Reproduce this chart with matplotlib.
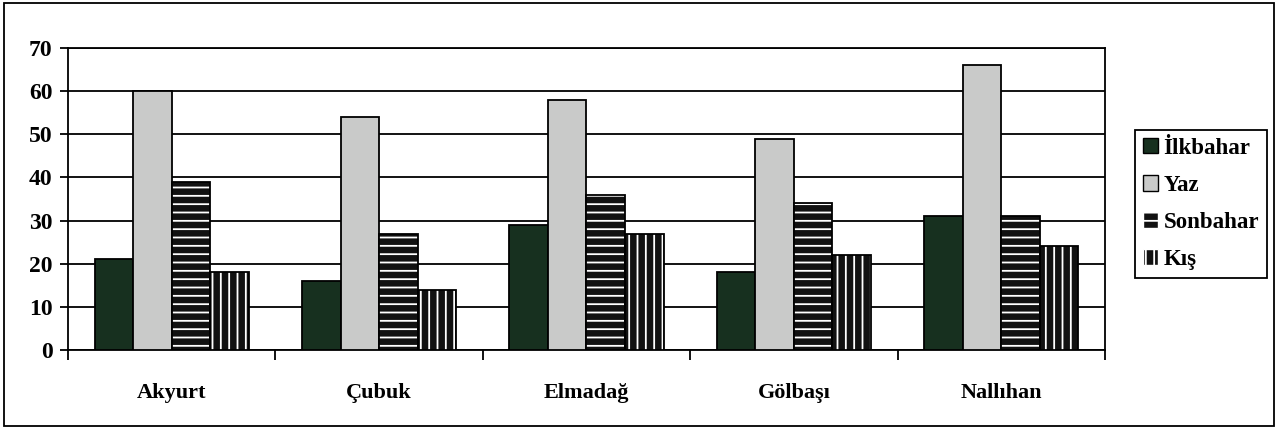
import numpy as np
import matplotlib
matplotlib.use("Agg")
import matplotlib.pyplot as plt
from matplotlib.patches import Rectangle, Patch

plt.rcParams["font.family"] = ["Liberation Serif", "DejaVu Serif"]
plt.rcParams["font.weight"] = "bold"
plt.rcParams["hatch.linewidth"] = 1.3

# data
districts = ["Akyurt", "Çubuk", "Elmadağ", "Gölbaşı", "Nallıhan"]
seasons = ["İlkbahar", "Yaz", "Sonbahar", "Kış"]
ilkbahar = [21, 16, 29, 18, 31]
yaz = [60, 54, 58, 49, 66]
sonbahar = [39, 27, 36, 34, 31]
kis = [18, 14, 27, 22, 24]
y_ticks = [0, 10, 20, 30, 40, 50, 60, 70]

series = [ilkbahar, yaz, sonbahar, kis]
# (face, hatch colour, hatch)
styles = [("#17301f", None, None),
          ("#c9cac9", None, None),
          ("#111111", "white", "--"),
          ("#111111", "white", "||")]

fig = plt.figure(figsize=(12.78, 4.30), dpi=100)
ax = fig.add_axes([0.0532, 0.186, 0.8114, 0.7024])

x = np.arange(len(districts))
w = 0.186
for i, (vals, (fc, hc, hatch)) in enumerate(zip(series, styles)):
    pos = x + (i - 1.5) * w
    if hatch:
        ax.bar(pos, vals, w, color=fc, edgecolor=hc, hatch=hatch, linewidth=0, zorder=3)
        ax.bar(pos, vals, w, fill=False, edgecolor="black", linewidth=1.3, zorder=4)
    else:
        ax.bar(pos, vals, w, color=fc, edgecolor="black", linewidth=1.3, zorder=3)

ax.set_xlim(-0.5, len(districts) - 0.5)
ax.set_ylim(0, 70)
ax.set_yticks(y_ticks)
ax.tick_params(axis="y", labelsize=17, length=6, width=1.3, direction="out", pad=5)
ax.yaxis.grid(True, color="black", linewidth=1.3, zorder=0)
ax.set_axisbelow(True)

ax.set_xticks(x)
ax.set_xticklabels(districts, fontsize=16)
ax.tick_params(axis="x", length=0, pad=24)
ax.set_xticks(np.arange(-0.5, len(districts)), minor=True)
ax.tick_params(axis="x", which="minor", length=7, width=1.3, direction="out")

for s in ax.spines.values():
    s.set_linewidth(1.3)

handles = []
for lab, (fc, hc, hatch) in zip(seasons, styles):
    if hatch:
        handles.append(Patch(facecolor=fc, edgecolor=hc, hatch=hatch, label=lab))
    else:
        handles.append(Patch(facecolor=fc, edgecolor="black", label=lab))
leg = fig.legend(handles=handles, loc="upper left", bbox_to_anchor=(0.888, 0.698),
                 fontsize=16.5, frameon=True, fancybox=False, edgecolor="black",
                 framealpha=1, handlelength=0.65, handleheight=0.65, handletextpad=0.25,
                 labelspacing=0.7, borderpad=0.35, borderaxespad=0)
leg.get_frame().set_linewidth(1.3)

fig.patches.append(Rectangle((0.003, 0.01), 0.994, 0.983, transform=fig.transFigure,
                             fill=False, edgecolor="black", linewidth=1.3))

fig.savefig("out.png", dpi=100)
